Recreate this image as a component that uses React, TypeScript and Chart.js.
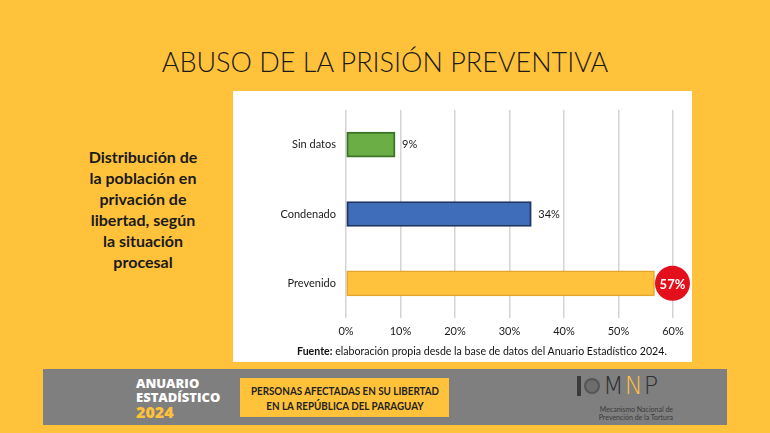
import React, { useEffect, useRef } from "react";
import { Chart, registerables } from "chart.js";

Chart.register(...registerables);

const categories = ["Sin datos", "Condenado", "Prevenido"];
const values = [9, 34, 56.6];
const valueLabels = ["9%", "34%", "57%"];
const xTicks = [0, 10, 20, 30, 40, 50, 60];
const barColors = ["#6BAE45", "#3F6DB9", "#FFC23C"];
const barBorders = ["#3C7426", "#1E3768", "#E4A52C"];

const FONT = "Lato, 'Open Sans', sans-serif";

const labelPlugin = {
  id: "valueLabels",
  afterDatasetsDraw(chart: any) {
    const ctx = chart.ctx;
    const meta = chart.getDatasetMeta(0);
    meta.data.forEach((bar: any, i: number) => {
      const txt = valueLabels[i];
      ctx.save();
      if (i === 2) {
        const cx = bar.x + 18;
        const cy = bar.y;
        ctx.beginPath();
        ctx.arc(cx, cy, 17.5, 0, Math.PI * 2);
        ctx.fillStyle = "#E3101B";
        ctx.fill();
        ctx.fillStyle = "#ffffff";
        ctx.font = `bold 13px ${FONT}`;
        ctx.textAlign = "center";
        ctx.textBaseline = "middle";
        ctx.fillText(txt, cx, cy + 1);
      } else {
        ctx.fillStyle = "#1a1a1a";
        ctx.font = `11px ${FONT}`;
        ctx.textAlign = "left";
        ctx.textBaseline = "middle";
        ctx.fillText(txt, bar.x + 7, bar.y);
      }
      ctx.restore();
    });
  },
};

function BarChart() {
  const ref = useRef<HTMLCanvasElement | null>(null);
  useEffect(() => {
    if (!ref.current) return;
    const chart = new Chart(ref.current, {
      type: "bar",
      data: {
        labels: categories,
        datasets: [
          {
            data: values,
            backgroundColor: barColors,
            borderColor: barBorders,
            borderWidth: [2, 2, 1.5],
            borderSkipped: false,
            barThickness: 25,
          },
        ],
      },
      options: {
        indexAxis: "y",
        animation: false,
        responsive: false,
        maintainAspectRatio: false,
        layout: { padding: { top: 19, right: 19, left: 0, bottom: 0 } },
        plugins: {
          legend: { display: false },
          tooltip: { enabled: false },
        },
        scales: {
          x: {
            min: 0,
            max: 60,
            afterBuildTicks: (scale: any) => {
              scale.ticks = xTicks.map((v) => ({ value: v }));
            },
            afterFit: (scale: any) => {
              scale.height = 44;
            },
            grid: { color: "#D4D4D4", lineWidth: 1.5, drawTicks: false },
            border: { display: false },
            ticks: {
              padding: 7,
              color: "#1a1a1a",
              font: { family: FONT, size: 11 },
              callback: (v: any) => v + "%",
            },
          },
          y: {
            afterFit: (scale: any) => {
              scale.width = 113;
            },
            grid: { display: false, drawTicks: false },
            border: { display: false },
            ticks: {
              padding: 10,
              color: "#1a1a1a",
              font: { family: FONT, size: 11 },
            },
          },
        },
      },
      plugins: [labelPlugin],
    });
    return () => chart.destroy();
  }, []);
  return <canvas ref={ref} width={459} height={271} style={{ display: "block" }} />;
}

export default function App() {
  return (
    <div
      style={{
        position: "fixed",
        left: 0,
        top: 0,
        width: 770,
        height: 433,
        background: "#FFC23A",
        fontFamily: FONT,
        overflow: "hidden",
      }}
    >
      <div
        style={{
          position: "absolute",
          left: 0,
          width: 770,
          top: 45,
          textAlign: "center",
          fontSize: 27,
          fontWeight: 300,
          color: "#1a1a1a",
        }}
      >
        ABUSO DE LA PRISIÓN PREVENTIVA
      </div>
      <div
        style={{
          position: "absolute",
          left: 63,
          width: 160,
          top: 146,
          textAlign: "center",
          fontSize: 16,
          lineHeight: "21px",
          fontWeight: 700,
          color: "#1a1a1a",
        }}
      >
        Distribución de
        <br />
        la población en
        <br />
        privación de
        <br />
        libertad, según
        <br />
        la situación
        <br />
        procesal
      </div>
      <div
        style={{
          position: "absolute",
          left: 233,
          top: 91,
          width: 459,
          height: 271,
          background: "#ffffff",
        }}
      >
        <BarChart />
        <div
          style={{
            position: "absolute",
            left: 64,
            top: 254,
            fontSize: 10.6,
            color: "#111",
            whiteSpace: "nowrap",
          }}
        >
          <b>Fuente:</b> elaboración propia desde la base de datos del Anuario Estadístico 2024.
        </div>
      </div>
      <div
        style={{
          position: "absolute",
          left: 43,
          top: 369,
          width: 684,
          height: 56,
          background: "#7F7F7F",
        }}
      >
        <div
          style={{
            position: "absolute",
            left: 93,
            top: 7,
            fontSize: 13,
            lineHeight: "14px",
            fontWeight: 900,
            color: "#ffffff",
            fontFamily: "'Open Sans', Lato, sans-serif",
          }}
        >
          ANUARIO
          <br />
          ESTADÍSTICO
          <br />
          <span style={{ color: "#FFC23A", fontSize: 16, lineHeight: "16px" }}>2024</span>
        </div>
        <div
          style={{
            position: "absolute",
            left: 197,
            top: 9,
            width: 209,
            height: 39,
            background: "#FFC23A",
          }}
        >
          <div
            style={{
              position: "absolute",
              left: "50%",
              top: 5,
              transform: "translateX(-50%) scaleX(0.82)",
              whiteSpace: "nowrap",
              textAlign: "center",
              fontSize: 12,
              lineHeight: "15px",
              fontWeight: 700,
              color: "#222",
            }}
          >
            PERSONAS AFECTADAS EN SU LIBERTAD
            <br />
            EN LA REPÚBLICA DEL PARAGUAY
          </div>
        </div>
        <div
          style={{
            position: "absolute",
            left: 534,
            top: 6,
            display: "flex",
            alignItems: "center",
            gap: 3,
            height: 22,
          }}
        >
          <div style={{ width: 4, height: 20, background: "#3a3a3a" }} />
          <div
            style={{
              width: 16,
              height: 16,
              borderRadius: 8,
              border: "2px solid #555",
              boxSizing: "border-box",
              background: "#6d6d6d",
            }}
          />
          <span
            style={{
              fontSize: 24,
              lineHeight: "22px",
              fontWeight: 300,
              color: "#2f2f2f",
              letterSpacing: 1,
              fontFamily: "'DejaVu Sans', sans-serif",
            }}
          >
            M<span style={{ color: "#FFC23A" }}>N</span>P
          </span>
        </div>
        <div
          style={{
            position: "absolute",
            left: 544,
            top: 36,
            fontSize: 7,
            lineHeight: "8px",
            color: "#3a3a3a",
            textAlign: "right",
            width: 86,
          }}
        >
          Mecanismo Nacional de
          <br />
          Prevención de la Tortura
        </div>
      </div>
    </div>
  );
}
